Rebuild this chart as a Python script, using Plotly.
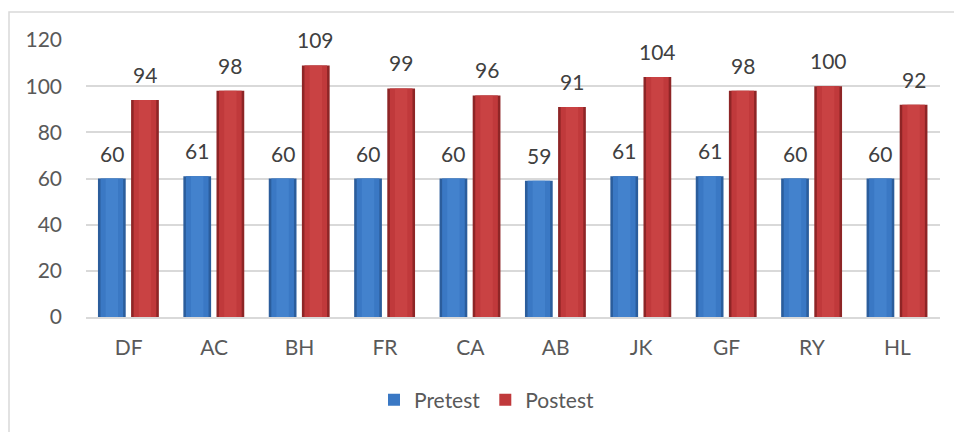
import plotly.graph_objects as go

# Scores per participant
participants = ["DF", "AC", "BH", "FR", "CA", "AB", "JK", "GF", "RY", "HL"]
pretest = [60, 61, 60, 60, 60, 59, 61, 61, 60, 60]
postest = [94, 98, 109, 99, 96, 91, 104, 98, 100, 92]
y_ticks = [0, 20, 40, 60, 80, 100, 120]

FONT = "Lato, Carlito, Calibri, 'Open Sans', sans-serif"
TEXT = "#595959"

BAR_W = 0.325
series = [
    # name, values, offset, edge, body, highlight
    ("Pretest", pretest, -0.360, "#2b5d9c", "#3a78c4", "#4a8ad6"),
    ("Postest", postest, 0.028, "#8e2526", "#c0393b", "#cf4a4b"),
]

fig = go.Figure()
for name, vals, off, edge, body, hi in series:
    # outer bar (darker rim)
    fig.add_trace(go.Bar(
        x=participants, y=vals, name=name, offset=off, width=BAR_W,
        marker=dict(color=edge, line=dict(width=0)),
        legendgroup=name, showlegend=False, hoverinfo="skip",
    ))
    # body
    fig.add_trace(go.Bar(
        x=participants, y=vals, name=name, offset=off + 0.03, width=BAR_W - 0.06,
        marker=dict(color=body, line=dict(width=0)),
        legendgroup=name, showlegend=True,
    ))
    # soft centre highlight
    fig.add_trace(go.Bar(
        x=participants, y=vals, name=name, offset=off + 0.09, width=BAR_W - 0.18,
        marker=dict(color=hi, opacity=0.55, line=dict(width=0)),
        legendgroup=name, showlegend=False, hoverinfo="skip",
    ))

# value labels above each bar
for name, vals, off, *_ in series:
    for i, v in enumerate(vals):
        fig.add_annotation(
            x=i + off + BAR_W / 2, y=v, xref="x", yref="y",
            text=str(v), showarrow=False, yanchor="bottom", yshift=11,
            font=dict(family=FONT, size=21, color="#404040"),
        )

# chart frame
fig.add_shape(type="rect", xref="paper", yref="paper",
              x0=(9 - 86) / 854, x1=(990 - 86) / 854,
              y0=(317 - 460) / 277, y1=(317 - 12) / 277,
              line=dict(color="#d9d9d9", width=1.5), fillcolor="rgba(0,0,0,0)",
              layer="below")

fig.update_layout(
    width=954, height=432,
    margin=dict(l=86, r=14, t=40, b=115),
    paper_bgcolor="white", plot_bgcolor="white",
    barmode="overlay",
    font=dict(family=FONT, size=21, color=TEXT),
    showlegend=True,
    legend=dict(orientation="h", x=(374 - 86) / 854, xanchor="left",
                y=(317 - 400) / 277, yanchor="middle",
                font=dict(family=FONT, size=21, color=TEXT),
                itemwidth=30, tracegroupgap=0, bgcolor="rgba(0,0,0,0)"),
    xaxis=dict(type="category", categoryorder="array", categoryarray=participants,
               range=[-0.5, len(participants) - 0.5],
               showgrid=False, showline=True, linecolor="#d9d9d9", linewidth=2,
               ticks="", ticklabelstandoff=11,
               tickfont=dict(family=FONT, size=21, color=TEXT)),
    yaxis=dict(range=[0, 120], tickvals=y_ticks, showgrid=True,
               gridcolor="#d9d9d9", gridwidth=1.5, zeroline=False,
               showline=False, ticks="", ticklabelstandoff=23,
               tickfont=dict(family=FONT, size=21, color=TEXT)),
)

fig.write_html("out.html")
